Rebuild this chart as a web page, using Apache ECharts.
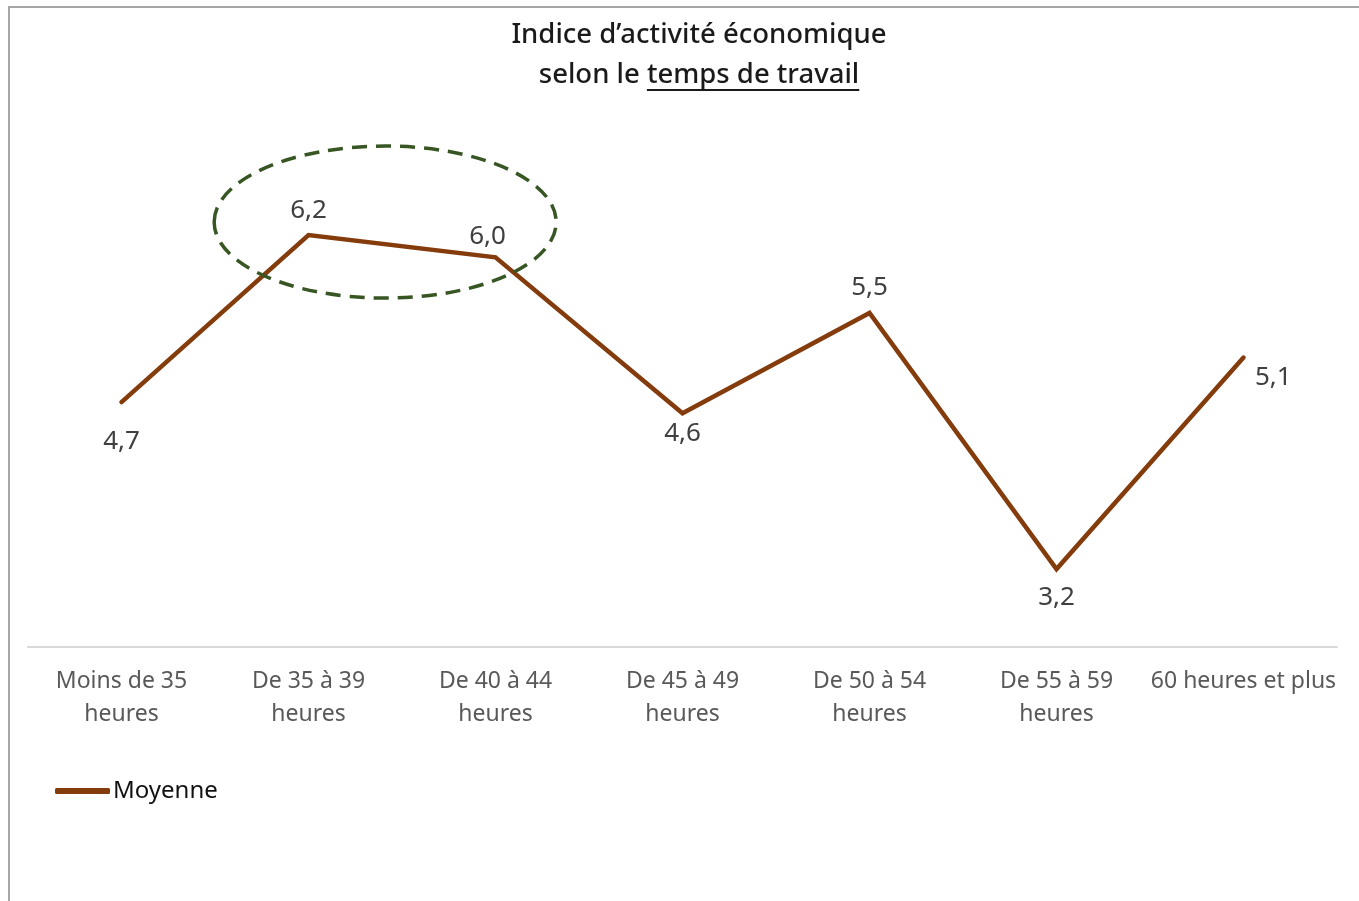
<!DOCTYPE html>
<html>
<head>
<meta charset="utf-8">
<title>Indice d’activité économique selon le temps de travail</title>
<script src="https://cdn.jsdelivr.net/npm/echarts@6/dist/echarts.min.js"></script>
<style>
  html, body { margin: 0; padding: 0; background: #ffffff; }
  #chart { width: 1359px; height: 901px; }
</style>
</head>
<body>
<div id="chart"></div>
<script>
// Tranches de temps de travail hebdomadaire
const categories = [
  'Moins de 35\nheures',
  'De 35 à 39\nheures',
  'De 40 à 44\nheures',
  'De 45 à 49\nheures',
  'De 50 à 54\nheures',
  'De 55 à 59\nheures',
  '60 heures et plus'
];
// Indice moyen par tranche
const moyenne = [4.7, 6.2, 6.0, 4.6, 5.5, 3.2, 5.1];
const seriesName = 'Moyenne';

// Placement des étiquettes de valeur
const labelPosition = ['bottom', 'top', 'top', 'bottom', 'top', 'bottom', 'right'];
const labelDistance = [26, 11, 7, 7, 12, 15, 11];
const labelOffset = [[0, 0], [0, 0], [-8, 0], [0, 0], [0, 0], [0, 0], [0, 20]];

const FONT = '"Noto Sans", "Open Sans", sans-serif';
const LINE_COLOR = '#843C0C';
const chart = echarts.init(document.getElementById('chart'), null, { renderer: 'canvas' });

const fmt = v => v.toFixed(1).replace('.', ',');

const seriesData = moyenne.map((v, i) => ({
  value: v,
  label: {
    position: labelPosition[i],
    distance: labelDistance[i],
    offset: labelOffset[i]
  }
}));

// Mesure du texte pour souligner une partie du titre
function textWidth(str, font) {
  const c = document.createElement('canvas').getContext('2d');
  c.font = font;
  return c.measureText(str).width;
}

const titleFontSize = 27.5;
const titleFont = '500 ' + titleFontSize + 'px ' + FONT;
const line2a = 'selon le ';
const line2b = 'temps de travail';
const wA = textWidth(line2a, titleFont);
const wB = textWidth(line2b, titleFont);
const titleCx = 699;
const line2Left = titleCx - (wA + wB) / 2;

chart.setOption({
  animation: false,
  grid: { left: 28, right: 22, top: 146, bottom: 254, containLabel: false },
  xAxis: {
    type: 'category',
    data: categories,
    boundaryGap: true,
    axisLine: { show: true, lineStyle: { color: '#d9d9d9', width: 2 } },
    axisTick: { show: false },
    axisLabel: {
      interval: 0,
      margin: 18,
      color: '#595959',
      fontFamily: FONT,
      fontSize: 23,
      lineHeight: 33
    },
    splitLine: { show: false }
  },
  yAxis: {
    type: 'value',
    min: 2.5,
    max: 7,
    show: false,
    splitLine: { show: false }
  },
  legend: {
    show: true,
    left: 55,
    top: 779,
    padding: 0,
    icon: 'roundRect',
    itemWidth: 55,
    itemHeight: 6,
    itemGap: 20,
    itemStyle: { color: LINE_COLOR, opacity: 1 },
    textStyle: { color: '#111111', fontFamily: FONT, fontSize: 24, padding: [0, 0, 0, -2] },
    data: [{ name: seriesName }]
  },
  series: [{
    name: seriesName,
    type: 'line',
    data: seriesData,
    symbol: 'circle',
    symbolSize: 1,
    showSymbol: true,
    lineStyle: { color: LINE_COLOR, width: 4.5, cap: 'round', join: 'miter' },
    itemStyle: { color: 'rgba(0,0,0,0)', borderWidth: 0 },
    label: {
      show: true,
      formatter: p => fmt(p.value),
      color: '#404040',
      fontFamily: FONT,
      fontSize: 26
    },
    z: 3
  }],
  graphic: [
    // Cadre du graphique
    {
      type: 'polyline',
      shape: { points: [[9, 905], [9, 7], [1365, 7]] },
      style: { stroke: '#a6a6a6', lineWidth: 2, fill: null },
      silent: true
    },
    // Titre
    {
      type: 'text',
      style: {
        text: 'Indice d’activité économique',
        x: titleCx, y: 35,
        align: 'center', verticalAlign: 'middle',
        font: titleFont, fill: '#1a1a1a'
      }
    },
    {
      type: 'text',
      style: {
        text: line2a,
        x: line2Left, y: 75,
        align: 'left', verticalAlign: 'middle',
        font: titleFont, fill: '#1a1a1a'
      }
    },
    {
      type: 'text',
      style: {
        text: line2b,
        x: line2Left + wA, y: 75,
        align: 'left', verticalAlign: 'middle',
        font: titleFont, fill: '#1a1a1a'
      }
    },
    {
      type: 'line',
      shape: { x1: line2Left + wA, y1: 90, x2: line2Left + wA + wB, y2: 90 },
      style: { stroke: '#1a1a1a', lineWidth: 2 }
    }
  ]
});

// Ellipse pointillée autour des deux tranches les plus élevées
const p1 = chart.convertToPixel({ seriesIndex: 0 }, [1, 6.2]);
const p2 = chart.convertToPixel({ seriesIndex: 0 }, [2, 6.0]);
const cx = p1[0] + 0.41 * (p2[0] - p1[0]);
const cy = p1[1] - 13;
chart.setOption({
  graphic: [{
    id: 'highlight',
    type: 'ellipse',
    shape: { cx: cx, cy: cy, rx: 171, ry: 76 },
    style: { fill: null, stroke: '#375623', lineWidth: 3.5, lineDash: [15, 9] },
    z: 10,
    silent: true
  }]
});
</script>
</body>
</html>
